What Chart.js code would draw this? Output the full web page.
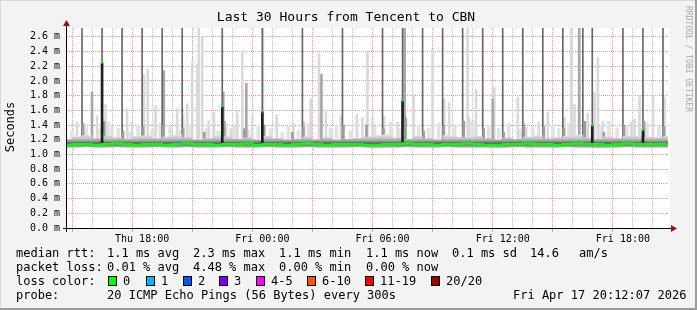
<!DOCTYPE html>
<html>
<head>
<meta charset="utf-8">
<script src="https://cdn.jsdelivr.net/npm/chart.js@4.4.1/dist/chart.umd.min.js"></script>
<style>
  html, body { margin: 0; padding: 0; background: #f3f3f3; }
  #wrap { width: 697px; height: 310px; }
</style>
</head>
<body>
<div id="wrap"><canvas id="chartCanvas" width="697" height="310"></canvas></div>
<script>
// Time axis in hours since Thu 00:00
const startHour = 14.25;
const endHour = 44.25;
const xLabelHours = [18, 24, 30, 36, 42];
const xLabels = ['Thu 18:00', 'Fri 00:00', 'Fri 06:00', 'Fri 12:00', 'Fri 18:00'];

// Median rtt (ms) and smoke band, every 30 min
const medianHours = [14.25, 14.75, 15.25, 15.75, 16.25, 16.75, 17.25, 17.75, 18.25, 18.75,
                     19.25, 19.75, 20.25, 20.75, 21.25, 21.75, 22.25, 22.75, 23.25, 23.75,
                     24.25, 24.75, 25.25, 25.75, 26.25, 26.75, 27.25, 27.75, 28.25, 28.75,
                     29.25, 29.75, 30.25, 30.75, 31.25, 31.75, 32.25, 32.75, 33.25, 33.75,
                     34.25, 34.75, 35.25, 35.75, 36.25, 36.75, 37.25, 37.75, 38.25, 38.75,
                     39.25, 39.75, 40.25, 40.75, 41.25, 41.75, 42.25, 42.75, 43.25, 43.75, 44.25];
const medianMs = [1.13, 1.14, 1.14, 1.13, 1.14, 1.15, 1.14, 1.13, 1.14, 1.14,
                  1.13, 1.14, 1.15, 1.14, 1.14, 1.13, 1.14, 1.14, 1.15, 1.13,
                  1.14, 1.14, 1.13, 1.14, 1.15, 1.14, 1.13, 1.14, 1.14, 1.14,
                  1.13, 1.13, 1.14, 1.14, 1.15, 1.14, 1.14, 1.13, 1.14, 1.14,
                  1.15, 1.14, 1.13, 1.13, 1.14, 1.14, 1.15, 1.14, 1.14, 1.13,
                  1.14, 1.15, 1.14, 1.14, 1.13, 1.14, 1.15, 1.14, 1.14, 1.14, 1.14];
const smokeLo = [1.09, 1.09, 1.10, 1.09, 1.09, 1.10, 1.09, 1.09, 1.09, 1.10,
                 1.09, 1.09, 1.10, 1.09, 1.09, 1.09, 1.10, 1.09, 1.09, 1.09,
                 1.10, 1.09, 1.09, 1.09, 1.10, 1.09, 1.09, 1.09, 1.09, 1.10,
                 1.09, 1.08, 1.09, 1.09, 1.10, 1.09, 1.09, 1.09, 1.10, 1.09,
                 1.09, 1.09, 1.09, 1.08, 1.09, 1.10, 1.09, 1.09, 1.09, 1.09,
                 1.10, 1.09, 1.09, 1.08, 1.09, 1.09, 1.10, 1.09, 1.09, 1.09, 1.09];
const smokeHi = [1.21, 1.24, 1.26, 1.22, 1.27, 1.23, 1.21, 1.25, 1.26, 1.22,
                 1.24, 1.27, 1.23, 1.20, 1.22, 1.26, 1.24, 1.21, 1.23, 1.20,
                 1.25, 1.22, 1.20, 1.21, 1.24, 1.20, 1.23, 1.20, 1.21, 1.22,
                 1.24, 1.26, 1.27, 1.23, 1.21, 1.25, 1.22, 1.20, 1.26, 1.24,
                 1.23, 1.25, 1.22, 1.20, 1.23, 1.21, 1.24, 1.26, 1.22, 1.23,
                 1.25, 1.27, 1.23, 1.21, 1.24, 1.22, 1.25, 1.26, 1.24, 1.23, 1.25];

// Hourly spikes (max pings), light smoke bars, medium bars
const spikeBase = 1.2;
const spikeHours = [15, 16, 17, 18, 19, 20, 22, 24, 26, 28, 30, 31, 32, 33, 34, 35, 36, 37, 38, 39, 40, 40.47, 42, 43, 44];
const spikeTops = [2.8, 2.8, 2.8, 2.8, 2.8, 2.8, 2.8, 2.8, 2.8, 2.8, 2.8, 2.8, 2.8, 2.8, 2.8, 2.8, 2.8, 2.8, 2.8, 2.8, 2.8, 2.8, 2.8, 2.8, 2.8];

const lightHours = [14.75, 15.75, 16.17, 16.5, 17.25, 17.5, 18.08, 18.28, 18.67, 19.75,
                    20.05, 20.25, 20.5, 20.75, 20.83, 21.0, 21.33, 21.58, 22.42, 22.75,
                    23.0, 23.5, 24.03, 24.72, 25.55, 26.08, 26.42, 26.83, 27.17, 27.92,
                    28.72, 29.0, 29.25, 29.5, 30.08, 30.75, 31.55, 32.5, 33.08, 33.33,
                    34.25, 34.33, 34.67, 35.58, 36.75, 37.17, 37.8, 38.25, 39.08, 39.42,
                    39.58, 40.25, 40.58, 40.75, 41.0, 42.42, 42.58, 42.83, 43.5, 44.08];
const lightTops = [1.44, 1.53, 1.68, 1.40, 1.62, 1.44, 2.09, 2.16, 1.67, 1.62,
                   1.55, 1.69, 2.26, 2.23, 2.80, 2.60, 1.46, 1.57, 1.35, 1.60,
                   2.41, 1.50, 2.80, 1.54, 1.43, 1.45, 1.76, 2.37, 1.57, 1.53,
                   1.55, 1.50, 2.41, 1.50, 1.52, 1.44, 1.82, 2.43, 1.75, 1.70,
                   2.80, 1.50, 1.89, 1.91, 1.78, 1.37, 1.44, 1.58, 1.50, 2.80,
                   1.68, 1.56, 1.85, 2.32, 1.45, 1.44, 1.48, 1.80, 1.80, 1.78];

const hazeHours = [14.5, 15.2, 15.9, 16.3, 16.8, 17.4, 17.8, 18.5, 18.9, 19.4,
                   19.9, 20.4, 21.2, 21.8, 22.2, 22.6, 23.3, 23.8, 24.4, 25.0,
                   25.3, 25.8, 26.3, 27.4, 27.7, 28.4, 29.6, 30.4, 30.9, 31.8,
                   32.3, 32.8, 33.6, 34.5, 35.3, 35.8, 36.3, 36.9, 37.5, 38.5,
                   38.8, 39.3, 40.9, 41.3, 41.7, 42.2, 43.2, 43.8];
const hazeTops = [1.32, 1.38, 1.35, 1.44, 1.36, 1.30, 1.40, 1.34, 1.42, 1.38,
                  1.33, 1.40, 1.36, 1.32, 1.42, 1.38, 1.34, 1.40, 1.35, 1.30,
                  1.38, 1.33, 1.42, 1.36, 1.40, 1.32, 1.38, 1.44, 1.35, 1.40,
                  1.36, 1.42, 1.38, 1.45, 1.40, 1.36, 1.42, 1.34, 1.38, 1.40,
                  1.35, 1.42, 1.38, 1.45, 1.36, 1.40, 1.42, 1.38];

const greyHours = [15.5, 19.08, 22.05, 23.2, 26.95, 31.1, 35.5, 39.82];
const greyTops = [1.85, 2.14, 1.85, 1.97, 2.09, 2.80, 1.75, 2.80];

const midHours = [15.05, 16.1, 17.05, 18.05, 19.05, 20.05, 21.1, 22.1, 23.1, 24.1,
                  25.5, 26.05, 28.05, 29.2, 30.05, 31.15, 32.05, 33.05, 34.05, 35.05,
                  36.05, 37.05, 38.05, 39.05, 40.1, 41.05, 42.05, 43.05, 44.05];
const midTops = [1.42, 1.45, 1.32, 1.38, 1.40, 1.35, 1.30, 1.45, 1.35, 1.40,
                 1.30, 1.38, 1.40, 1.40, 1.35, 1.50, 1.32, 1.40, 1.45, 1.35,
                 1.30, 1.42, 1.38, 1.35, 1.45, 1.30, 1.40, 1.45, 1.38];

// All pings high: dark bars under high medians
const blackBase = 1.13;
const blackHours = [16, 22, 24, 31, 40.47, 43];
const blackTops = [2.25, 1.656, 1.585, 1.733, 1.395, 1.336];

// Median points off the main line
const peakHours = [16, 22, 24, 31, 40.47, 43, 16.12, 31.1];
const peakMs = [2.25, 1.656, 1.585, 1.733, 1.395, 1.336, 1.26, 1.28];
const loss1Hours = [19.92];
const loss1Ms = [1.15];

// Legend text
const statRows = [
    [['median rtt:', 16], ['1.1 ms avg', 107], ['2.3 ms max', 193], ['1.1 ms min', 279],
     ['1.1 ms now', 366], ['0.1 ms sd', 452], ['14.6', 530], ['am/s', 579]],
    [['packet loss:', 16], ['0.01 % avg', 107], ['4.48 % max', 193], ['0.00 % min', 279], ['0.00 % now', 366]],
    [['loss color:', 16]],
    [['probe:', 16], ['20 ICMP Echo Pings (56 Bytes) every 300s', 107], ['Fri Apr 17 20:12:07 2026', 513]]
];
const statRowY = [254, 268, 281.5, 296];
const lossLabels = ['0', '1', '2', '3', '4-5', '6-10', '11-19', '20/20'];
const lossColors = ['#00ff00', '#00b8ff', '#0059ff', '#7e00ff', '#ff00ff', '#ff5500', '#ff0000', '#a10000'];
const lossBoxX = [108, 146, 183, 219, 256, 307, 365, 431];

const MONO = "'DejaVu Sans Mono', monospace";

function floating(hours, base, tops) {
    return hours.map((h, i) => ({ x: h, y: [base, tops[i]] }));
}
function points(hours, values) {
    return hours.map((h, i) => ({ x: h, y: values[i] }));
}

// vertical shading of the smoke band, darkest just above the median
function smokeGradient(context) {
    const chart = context.chart;
    const { ctx, chartArea, scales } = chart;
    if (!chartArea) return '#999';
    const y0 = scales.y.getPixelForValue(1.08);
    const y1 = scales.y.getPixelForValue(1.27);
    const g = ctx.createLinearGradient(0, y0, 0, y1);
    g.addColorStop(0.0, '#e0e0e0');
    g.addColorStop(0.10, '#b0b0b0');
    g.addColorStop(0.26, '#7a7a7a');
    g.addColorStop(0.38, '#5a5a5a');
    g.addColorStop(0.52, '#959595');
    g.addColorStop(0.72, '#c4c4c4');
    g.addColorStop(1.0, '#e6e6e6');
    return g;
}

const frame = {
    id: 'frame',
    beforeDraw(chart) {
        const { ctx, chartArea: a } = chart;
        ctx.save();
        ctx.fillStyle = '#f3f3f3';
        ctx.fillRect(0, 0, chart.width, chart.height);
        ctx.fillStyle = '#ffffff';
        ctx.fillRect(a.left, a.top, a.right - a.left + 2, a.bottom - a.top);
        ctx.restore();
    },
    afterDraw(chart) {
        const { ctx, chartArea: a } = chart;
        ctx.save();
        // axes
        ctx.strokeStyle = '#000';
        ctx.lineWidth = 1;
        ctx.beginPath();
        ctx.moveTo(a.left - 4, a.bottom + 0.5);
        ctx.lineTo(a.right + 5, a.bottom + 0.5);
        ctx.moveTo(a.left - 0.5, a.bottom + 4);
        ctx.lineTo(a.left - 0.5, a.top - 5);
        ctx.stroke();
        ctx.fillStyle = '#a01010';
        ctx.beginPath();
        ctx.moveTo(a.right + 9, a.bottom + 0.5);
        ctx.lineTo(a.right + 3, a.bottom - 3);
        ctx.lineTo(a.right + 3, a.bottom + 4);
        ctx.closePath();
        ctx.fill();
        ctx.beginPath();
        ctx.moveTo(a.left - 0.5, a.top - 8);
        ctx.lineTo(a.left - 4, a.top - 2);
        ctx.lineTo(a.left + 3, a.top - 2);
        ctx.closePath();
        ctx.fill();

        // title
        ctx.fillStyle = '#000';
        ctx.font = '13px ' + MONO;
        ctx.textAlign = 'center';
        ctx.textBaseline = 'middle';
        ctx.fillText('Last 30 Hours from Tencent to CBN', 346, 18);

        // y title
        ctx.save();
        ctx.translate(11, 127);
        ctx.rotate(-Math.PI / 2);
        ctx.font = '12px ' + MONO;
        ctx.fillText('Seconds', 0, 0);
        ctx.restore();

        // watermark
        ctx.save();
        ctx.translate(688, 59);
        ctx.rotate(Math.PI / 2);
        ctx.font = '8px ' + MONO;
        ctx.fillStyle = '#a8a8a8';
        ctx.fillText('RRDTOOL / TOBI OETIKER', 0, 0);
        ctx.restore();

        // legend rows
        ctx.font = '12px ' + MONO;
        ctx.textAlign = 'left';
        ctx.fillStyle = '#000';
        statRows.forEach((row, r) => {
            row.forEach(([txt, x]) => ctx.fillText(txt, x, statRowY[r]));
        });
        lossLabels.forEach((lbl, i) => {
            const x = lossBoxX[i];
            ctx.fillStyle = lossColors[i];
            ctx.fillRect(x, 276, 9, 10);
            ctx.strokeStyle = '#000';
            ctx.strokeRect(x + 0.5, 276.5, 8, 9);
            ctx.fillStyle = '#000';
            ctx.fillText(lbl, x + 15, statRowY[2]);
        });

        // image border
        ctx.fillStyle = '#9c9c9c';
        ctx.fillRect(chart.width - 2, 0, 2, chart.height);
        ctx.fillRect(0, chart.height - 2, chart.width, 2);
        ctx.fillStyle = '#dadada';
        ctx.fillRect(0, 0, chart.width - 2, 1);
        ctx.fillRect(0, 0, 1, chart.height - 2);
        ctx.restore();
    }
};

const ctx = document.getElementById('chartCanvas').getContext('2d');

new Chart(ctx, {
    type: 'bar',
    data: {
        datasets: [
            {
                type: 'line',
                data: points(medianHours, smokeLo),
                borderWidth: 0,
                pointRadius: 0,
                fill: false,
                order: 4
            },
            {
                type: 'line',
                data: points(medianHours, smokeHi),
                borderWidth: 0,
                pointRadius: 0,
                backgroundColor: smokeGradient,
                fill: 0,
                stepped: 'middle',
                order: 4
            },
            {
                data: floating(lightHours, spikeBase, lightTops),
                backgroundColor: '#d9d9d9',
                barThickness: 2,
                grouped: false,
                order: 8
            },
            {
                data: floating(hazeHours, spikeBase, hazeTops),
                backgroundColor: '#e2e2e2',
                barThickness: 3,
                grouped: false,
                order: 9
            },
            {
                data: floating(greyHours, spikeBase, greyTops),
                backgroundColor: '#a6a6a6',
                barThickness: 2,
                grouped: false,
                order: 7
            },
            {
                data: floating(spikeHours, spikeBase, spikeTops),
                backgroundColor: '#676767',
                barThickness: 1,
                grouped: false,
                order: 6
            },
            {
                data: floating(midHours, spikeBase, midTops),
                backgroundColor: '#9c9c9c',
                barThickness: 2,
                grouped: false,
                order: 5
            },
            {
                data: floating(blackHours, blackBase, blackTops),
                backgroundColor: '#1e1e1e',
                barThickness: 2,
                grouped: false,
                order: 2
            },
            {
                type: 'line',
                data: points(medianHours, medianMs),
                borderColor: '#00ff00',
                borderWidth: 2.5,
                pointRadius: 0,
                stepped: 'middle',
                fill: false,
                order: 1
            },
            {
                type: 'scatter',
                data: points(peakHours, peakMs),
                backgroundColor: '#00ff00',
                pointStyle: 'rect',
                pointRadius: 1.5,
                borderWidth: 0,
                order: 0
            },
            {
                type: 'scatter',
                data: points(loss1Hours, loss1Ms),
                backgroundColor: '#00b8ff',
                pointStyle: 'rect',
                pointRadius: 1.5,
                borderWidth: 0,
                order: 0
            }
        ]
    },
    options: {
        responsive: false,
        animation: false,
        devicePixelRatio: 1,
        layout: { padding: { left: 0, right: 29, top: 28, bottom: 62 } },
        plugins: {
            legend: { display: false },
            tooltip: { enabled: false }
        },
        scales: {
            x: {
                type: 'linear',
                min: startHour,
                max: endHour,
                offset: false,
                z: 1,
                afterFit: function(scale) { scale.height = 20; },
                afterBuildTicks: function(scale) {
                    const t = [];
                    for (let h = Math.ceil(startHour); h <= endHour; h++) t.push({ value: h });
                    scale.ticks = t;
                },
                grid: {
                    color: function(c) {
                        return c.tick && c.tick.value % 3 === 0 ? 'rgba(232,110,110,0.75)' : 'rgba(170,170,170,0.7)';
                    },
                    tickColor: function(c) {
                        return c.tick && c.tick.value % 3 === 0 ? 'rgba(232,110,110,0.75)' : 'rgba(0,0,0,0)';
                    },
                    tickLength: 4
                },
                border: { display: false, dash: [1, 1] },
                ticks: {
                    autoSkip: false,
                    maxRotation: 0,
                    padding: 1,
                    color: '#000',
                    font: { family: MONO, size: 10 },
                    callback: function(value) {
                        const i = xLabelHours.indexOf(value);
                        return i >= 0 ? xLabels[i] : '';
                    }
                }
            },
            y: {
                min: 0,
                max: 2.72,
                z: 1,
                afterFit: function(scale) { scale.width = 67; },
                afterBuildTicks: function(scale) {
                    scale.ticks = scale.ticks.filter(t => Math.abs(t.value * 10 - Math.round(t.value * 10)) < 1e-6);
                },
                grid: {
                    color: function(c) {
                        return c.tick && Math.round(c.tick.value * 10) % 2 === 0 ? 'rgba(232,110,110,0.75)' : 'rgba(170,170,170,0.7)';
                    },
                    drawTicks: false
                },
                border: { display: false, dash: [1, 1] },
                ticks: {
                    stepSize: 0.1,
                    padding: 7,
                    color: '#000',
                    font: { family: MONO, size: 10 },
                    callback: function(value) {
                        return Math.round(value * 10) % 2 === 0 ? value.toFixed(1) + ' m' : '';
                    }
                }
            }
        }
    },
    plugins: [frame]
});
</script>
</body>
</html>
